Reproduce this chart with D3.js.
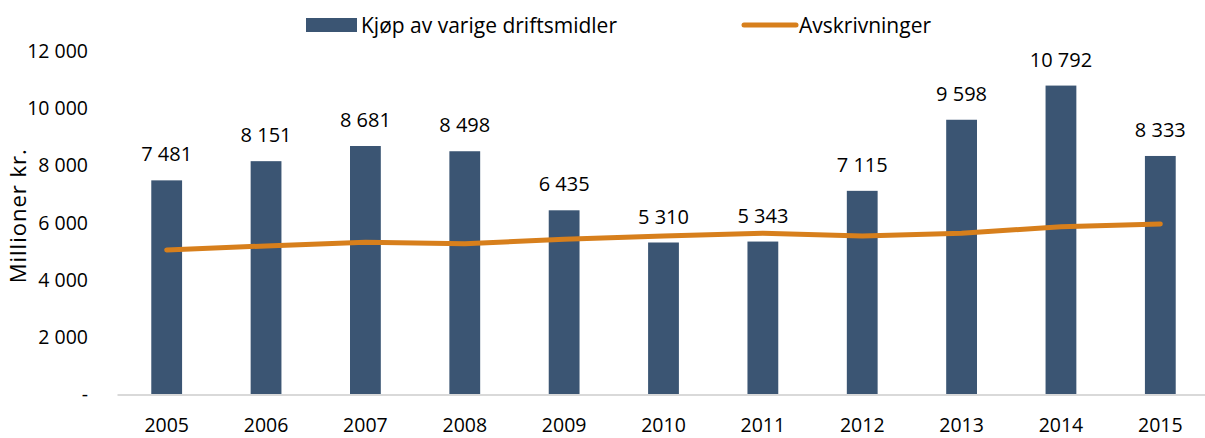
<!DOCTYPE html>
<html>
<head>
<meta charset="utf-8">
<script src="https://cdn.jsdelivr.net/npm/d3@7"></script>
<style>
  body { margin: 0; background: #fff; }
  text { font-family: "Open Sans", "Noto Sans", sans-serif; fill: #000; }
</style>
</head>
<body>
<div id="chart"></div>
<script>
var years = ["2005", "2006", "2007", "2008", "2009", "2010", "2011", "2012", "2013", "2014", "2015"];
var kjop = [7481, 8151, 8681, 8498, 6435, 5310, 5343, 7115, 9598, 10792, 8333];
var avskrivninger = [5050, 5190, 5320, 5270, 5420, 5540, 5630, 5540, 5630, 5860, 5960];
var yTicks = [0, 2000, 4000, 6000, 8000, 10000, 12000];

var width = 1205, height = 438;
var margin = {top: 51, right: -5, bottom: 43.5, left: 117};
var innerW = width - margin.left - margin.right,
    innerH = height - margin.top - margin.bottom;

var barColour = "#3b5573", lineColour = "#d77f1c";

function fmt(v) {
    if (v === 0) return "-";
    return d3.format(",")(v).replace(/,/g, " ");
}

var svg = d3.select("#chart").append("svg")
    .attr("width", width).attr("height", height);
var g = svg.append("g")
    .attr("transform", "translate(" + margin.left + "," + margin.top + ")");

var x = d3.scaleBand().domain(years).range([0, innerW]).paddingInner(0.69).paddingOuter(0.345);
var y = d3.scaleLinear().domain([0, 12000]).range([innerH, 0]);

// y axis (labels only)
var yAxis = g.append("g").call(d3.axisLeft(y).tickValues(yTicks).tickFormat(fmt).tickSize(0).tickPadding(29));
yAxis.select(".domain").remove();
yAxis.selectAll("text").style("font-size", "19.5px");

// bars
g.selectAll(".bar").data(kjop).enter().append("rect")
    .attr("x", function(d, i) { return x(years[i]); })
    .attr("y", function(d) { return y(d); })
    .attr("width", x.bandwidth())
    .attr("height", function(d) { return innerH - y(d); })
    .attr("fill", barColour);

// x axis
var xAxis = g.append("g").attr("transform", "translate(0," + innerH + ")")
    .call(d3.axisBottom(x).tickSize(0).tickPadding(24));
xAxis.select(".domain").attr("stroke", "#d9d9d9").attr("stroke-width", 2);
xAxis.selectAll("text").style("font-size", "19.5px");

// line
var line = d3.line()
    .x(function(d, i) { return x(years[i]) + x.bandwidth() / 2; })
    .y(function(d) { return y(d); });
g.append("path").datum(avskrivninger)
    .attr("d", line)
    .attr("fill", "none")
    .attr("stroke", lineColour)
    .attr("stroke-width", 5)
    .attr("stroke-linecap", "round")
    .attr("stroke-linejoin", "round");

// value labels
g.selectAll(".val").data(kjop).enter().append("text")
    .attr("x", function(d, i) { return x(years[i]) + x.bandwidth() / 2; })
    .attr("y", function(d) { return y(d) - 19; })
    .attr("text-anchor", "middle")
    .style("font-size", "20px")
    .text(fmt);

// y title
svg.append("text")
    .attr("transform", "translate(26," + (margin.top + innerH / 2 - 7) + ") rotate(-90)")
    .attr("text-anchor", "middle")
    .style("font-size", "22px")
    .style("letter-spacing", "1px")
    .text("Millioner kr.");

// legend
var legend = svg.append("g");
legend.append("rect").attr("x", 306).attr("y", 18).attr("width", 51).attr("height", 14).attr("fill", barColour);
legend.append("text").attr("x", 361).attr("y", 33).style("font-size", "21px").text("Kjøp av varige driftsmidler");
legend.append("line").attr("x1", 744).attr("x2", 796).attr("y1", 25).attr("y2", 25)
    .attr("stroke", lineColour).attr("stroke-width", 5).attr("stroke-linecap", "round");
legend.append("text").attr("x", 799).attr("y", 33).style("font-size", "21px").text("Avskrivninger");
</script>
</body>
</html>
